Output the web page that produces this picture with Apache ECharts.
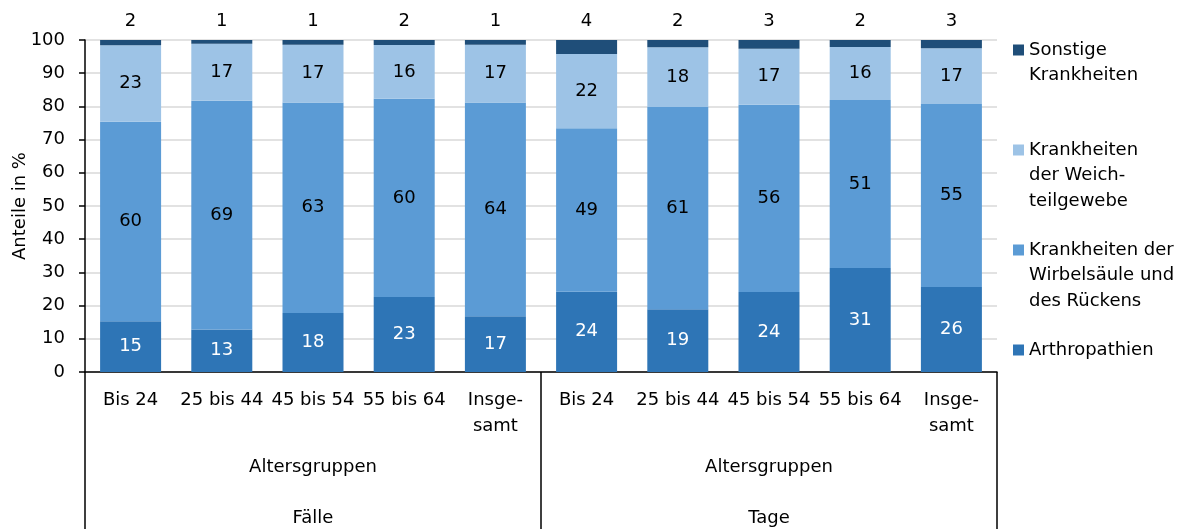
<!DOCTYPE html>
<html>
<head>
<meta charset="utf-8">
<script src="https://cdn.jsdelivr.net/npm/echarts@6/dist/echarts.min.js"></script>
<style>
html,body{margin:0;padding:0;background:#fff;}
#chart{width:1195px;height:529px;}
</style>
</head>
<body>
<div id="chart"></div>
<script>
// ---- data ----
const ageLabels = ['Bis 24','25 bis 44','45 bis 54','55 bis 64','Insge-\nsamt','Bis 24','25 bis 44','45 bis 54','55 bis 64','Insge-\nsamt'];
const groupLabels = ['Fälle','Tage'];
const groupTitle = 'Altersgruppen';
const yTicks = [0,10,20,30,40,50,60,70,80,90,100];
const seriesNames = ['Arthropathien','Krankheiten der Wirbelsäule und des Rückens','Krankheiten der Weichteilgewebe','Sonstige Krankheiten'];
const legendTexts = ['Arthropathien','Krankheiten der\nWirbelsäule und\ndes Rückens','Krankheiten\nder Weich-\nteilgewebe','Sonstige\nKrankheiten'];
const arthropathien = [15.3,12.8,17.8,22.6,16.8, 24.2,18.9,24.1,31.3,25.6];
const wirbelsaeule  = [60.1,68.9,63.4,59.7,64.4, 49.2,60.9,56.4,50.6,55.1];
const weichteile    = [23.0,17.2,17.4,16.2,17.4, 22.4,18.0,16.9,16.0,16.8];
const sonstige      = [1.6, 1.1, 1.4, 1.5, 1.4,  4.2, 2.2, 2.6, 2.1, 2.5];

const FONT = 'DejaVu Sans';
const colors = ['#2E75B6','#5B9BD5','#9DC3E6','#1F4E79'];
const labelColors = ['#ffffff','#000000','#000000','#000000'];
const seriesData = [arthropathien, wirbelsaeule, weichteile, sonstige];

const chart = echarts.init(document.getElementById('chart'), null, {renderer:'canvas'});

const series = seriesData.map((d, i) => ({
  name: seriesNames[i],
  type: 'bar',
  stack: 'total',
  xAxisIndex: 0,
  barWidth: 61,
  data: d,
  itemStyle: {color: colors[i]},
  label: {
    show: true,
    position: i === 3 ? 'top' : 'inside',
    distance: 10,
    color: labelColors[i],
    fontFamily: FONT,
    fontSize: 18,
    formatter: p => String(Math.round(p.value))
  },
  emphasis: {disabled: true}
}));

// legend layout: icon center y positions; text block is padded with leading
// blank lines so that the first text line sits beside the icon
const legendIconY = [350, 250, 150, 50];
const LH = 25.5;
const legends = seriesNames.map((n, i) => {
  const lines = legendTexts[i].split('\n').length;
  const lead = '\n'.repeat(lines - 1);
  const H = (2 * lines - 1) * LH;
  return {
    data: [n],
    orient: 'vertical',
    left: 1013,
    top: legendIconY[i] - H / 2,
    padding: 0,
    itemWidth: 11,
    itemHeight: 11,
    itemGap: 0,
    icon: 'rect',
    selectedMode: false,
    formatter: () => lead + legendTexts[i],
    textStyle: {fontFamily: FONT, fontSize: 18, color: '#000', lineHeight: LH}
  };
});

const option = {
  animation: false,
  backgroundColor: '#fff',
  textStyle: {fontFamily: FONT},
  grid: {left: 85, right: 198, top: 40, bottom: 157, containLabel: false, outerBoundsMode: 'none'},
  legend: legends,
  xAxis: [
    {
      type: 'category',
      data: ageLabels,
      position: 'bottom',
      axisLine: {show: true, lineStyle: {color: '#000', width: 1.5}},
      axisTick: {show: false},
      axisLabel: {interval: 0, fontFamily: FONT, fontSize: 18, color: '#000', lineHeight: LH, margin: 16},
      splitLine: {show: false}
    },
    {
      type: 'category',
      data: groupLabels,
      position: 'bottom',
      axisLine: {show: false},
      axisTick: {show: true, length: 160, lineStyle: {color: '#000', width: 1.5}},
      axisLabel: {interval: 0, fontFamily: FONT, fontSize: 18, color: '#000', lineHeight: LH, margin: 83,
        formatter: v => groupTitle + '\n\n' + v},
      splitLine: {show: false}
    }
  ],
  yAxis: {
    type: 'value',
    min: yTicks[0],
    max: yTicks[yTicks.length - 1],
    interval: yTicks[1] - yTicks[0],
    name: 'Anteile in %',
    nameLocation: 'middle',
    nameRotate: 90,
    nameGap: 56,
    nameMoveOverlap: false,
    nameTextStyle: {fontFamily: FONT, fontSize: 18, color: '#000'},
    axisLine: {show: true, lineStyle: {color: '#000', width: 1.5}},
    axisTick: {show: true, length: 6, lineStyle: {color: '#000', width: 1.5}},
    axisLabel: {fontFamily: FONT, fontSize: 18, color: '#000', margin: 20},
    splitLine: {show: true, lineStyle: {color: '#d9d9d9', width: 1.5}}
  },
  series: series
};
chart.setOption(option);
</script>
</body>
</html>
